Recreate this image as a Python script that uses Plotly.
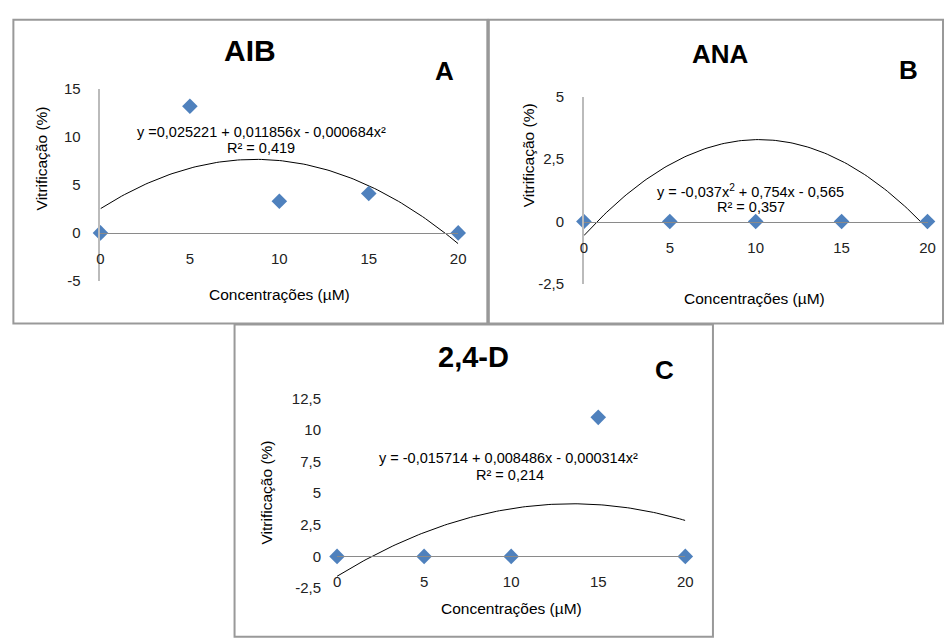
import numpy as np
import plotly.graph_objects as go

# ---------------- data ----------------
conc = [0, 5, 10, 15, 20]
aib_vals = [0, 13.2, 3.3, 4.1, 0]
ana_vals = [0, 0, 0, 0, 0]
d24_vals = [0, 0, 0, 11.0, 0]

# trendline coefficients (c0, c1, c2) as printed, plus scale to percent
aib_trend = [0.025221, 0.011856, -0.000684]
aib_scale = 100
ana_trend = [-0.565, 0.754, -0.037]
ana_scale = 1
d24_trend = [-0.015714, 0.008486, -0.000314]
d24_scale = 100

aib_yticks = [-5, 0, 5, 10, 15]
aib_yticktext = ["-5", "0", "5", "10", "15"]
ana_yticks = [-2.5, 0, 2.5, 5]
ana_yticktext = ["-2,5", "0", "2,5", "5"]
d24_yticks = [-2.5, 0, 2.5, 5, 7.5, 10, 12.5]
d24_yticktext = ["-2,5", "0", "2,5", "5", "7,5", "10", "12,5"]
xticks = [0, 5, 10, 15, 20]
xticktext = ["0", "5", "10", "15", "20"]

titles = ["AIB", "ANA", "2,4-D"]
letters = ["A", "B", "C"]
eq_texts = [
    "y =0,025221 + 0,011856x - 0,000684x²",
    "y = -0,037x<sup>2</sup> + 0,754x - 0,565",
    "y = -0,015714 + 0,008486x - 0,000314x²",
]
r2_texts = ["R² = 0,419", "R² = 0,357", "R² = 0,214"]
ytitle = "Vitrificação (%)"
xtitle = "Concentrações (µM)"

W, H = 952, 640
FONT = "Liberation Sans, Arial, sans-serif"
BLUE = "#4F81BD"
GREY = "#8a8a8a"


def px(x):
    return x / W


def py(y):
    return 1 - y / H


fig = go.Figure()

xs = np.linspace(0, 20, 121)
panels = [
    (aib_vals, aib_trend, aib_scale),
    (ana_vals, ana_trend, ana_scale),
    (d24_vals, d24_trend, d24_scale),
]
for i, (vals, coef, sc) in enumerate(panels):
    ax = "" if i == 0 else str(i + 1)
    ys = sc * (coef[0] + coef[1] * xs + coef[2] * xs ** 2)
    fig.add_trace(go.Scatter(x=xs, y=ys, mode="lines",
                             line=dict(color="black", width=1),
                             xaxis="x" + ax, yaxis="y" + ax,
                             showlegend=False, hoverinfo="skip"))
    fig.add_trace(go.Scatter(x=conc, y=vals, mode="markers",
                             marker=dict(symbol="diamond", size=12, color=BLUE),
                             xaxis="x" + ax, yaxis="y" + ax,
                             cliponaxis=False, showlegend=False))

# geometry (pixel) of each plot area
geo = [
    (97.7, 460.0, 82.1, 279.3, [-5, 15], 230.0, aib_yticks, aib_yticktext, True),
    (587.3, 935.3, 89.9, 282.5, [-2.5, 5], 218.3, ana_yticks, ana_yticktext, True),
    (337.3, 690.0, 400.0, 594.8, [-2.5, 12.5], 562.3, d24_yticks, d24_yticktext, False),
]

layout = dict(
    width=W, height=H, margin=dict(l=0, r=0, t=0, b=0),
    paper_bgcolor="white", plot_bgcolor="rgba(0,0,0,0)",
    font=dict(family=FONT, color="#222222", size=14),
    showlegend=False,
)
for i, (x0, x1, yt, yb, yr, z, tv, tt, showy) in enumerate(geo):
    ax = "" if i == 0 else str(i + 1)
    layout["xaxis" + ax] = dict(
        domain=[px(x0), px(x1)], range=[0, 20], anchor="free", position=py(z),
        showline=True, linecolor=GREY, linewidth=1, showgrid=False, zeroline=False,
        tickvals=xticks, ticktext=xticktext, ticks="", ticklabelstandoff=12,
        tickfont=dict(size=15, family=FONT, color="#222222"),
    )
    layout["yaxis" + ax] = dict(
        domain=[py(yb), py(yt)], range=yr, anchor="x" + ax,
        showline=showy, linecolor="#bbbbbb", linewidth=1.5, showgrid=False,
        zeroline=False, tickvals=tv, ticktext=tt, ticks="", ticklabelstandoff=15,
        tickfont=dict(size=15, family=FONT, color="#222222"),
    )

fig.update_layout(**layout)

# panel borders
boxes = [(9.5, 11, 489.5, 323), (491, 11, 951, 323), (233.5, 324, 718, 645)]
for (bx0, by0, bx1, by1) in boxes:
    fig.add_shape(type="rect", xref="paper", yref="paper",
                  x0=px(bx0), x1=px(bx1), y0=py(by1), y1=py(by0),
                  line=dict(color="#999999", width=2), layer="below")

# text annotations
title_pos = [(249, 43), (726, 46), (475, 358)]
title_size = [30, 26, 29]
letter_pos = [(446, 64), (916, 63), (669, 371)]
eq_pos = [(261, 126), (756, 187), (511, 461)]
r2_pos = [(260, 143), (757, 203), (512, 479)]
ytitle_pos = [(38, 154), (531, 150), (266, 497)]
xtitle_pos = [(279, 293), (760, 297), (514, 616)]

ann = []
for i in range(3):
    ann.append(dict(text="<b>%s</b>" % titles[i], x=px(title_pos[i][0]), y=py(title_pos[i][1]),
                    font=dict(size=title_size[i], color="black")))
    ann.append(dict(text="<b>%s</b>" % letters[i], x=px(letter_pos[i][0]), y=py(letter_pos[i][1]),
                    font=dict(size=26, color="black")))
    ann.append(dict(text=eq_texts[i], x=px(eq_pos[i][0]), y=py(eq_pos[i][1]),
                    font=dict(size=14.5, color="black")))
    ann.append(dict(text=r2_texts[i], x=px(r2_pos[i][0]), y=py(r2_pos[i][1]),
                    font=dict(size=14.5, color="black")))
    ann.append(dict(text=ytitle, x=px(ytitle_pos[i][0]), y=py(ytitle_pos[i][1]),
                    textangle=-90, font=dict(size=15.5, color="black")))
    ann.append(dict(text=xtitle, x=px(xtitle_pos[i][0]), y=py(xtitle_pos[i][1]),
                    font=dict(size=15.5, color="black")))
for a in ann:
    a.update(xref="paper", yref="paper", showarrow=False, xanchor="center", yanchor="middle",
             font=dict(family=FONT, **a["font"]))
fig.update_layout(annotations=ann)

fig.write_html("out.html")
